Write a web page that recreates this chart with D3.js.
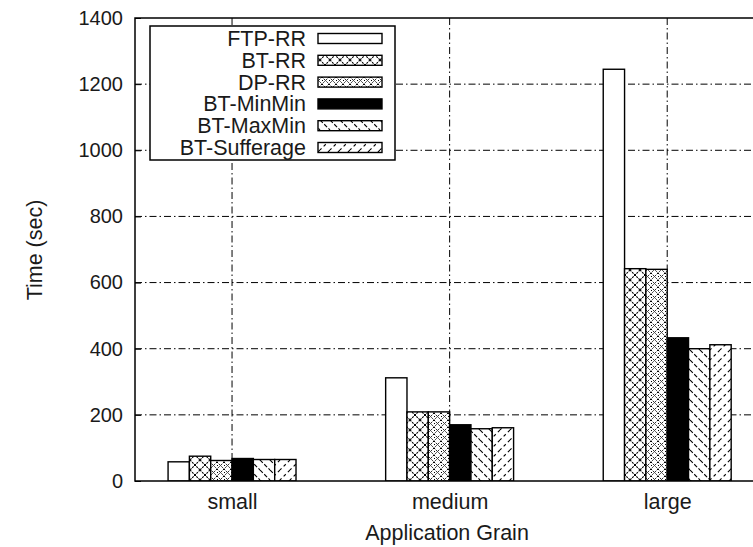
<!DOCTYPE html>
<html><head><meta charset="utf-8">
<script src="https://cdn.jsdelivr.net/npm/d3@7"></script>
<style>
body{margin:0;background:#fff;}
svg{display:block;font-family:"Liberation Sans",Arial,sans-serif;}
</style></head>
<body><svg id="c" width="753" height="547"></svg>
<script>
const categories = ["small","medium","large"];
const seriesNames = ["FTP-RR","BT-RR","DP-RR","BT-MinMin","BT-MaxMin","BT-Sufferage"];
const ftpRR      = [58, 312, 1245];
const btRR       = [75, 209, 642];
const dpRR       = [62, 209, 640];
const btMinMin   = [68, 170, 433];
const btMaxMin   = [65, 158, 400];
const btSuffer   = [65, 161, 412];
const seriesValues = [ftpRR, btRR, dpRR, btMinMin, btMaxMin, btSuffer];
const yTicks = [0,200,400,600,800,1000,1200,1400];

const FS = 21.5;
const FONT = "Liberation Sans, Arial, sans-serif";
const svg = d3.select("#c");
const pLeft=135, pTop=18, pBottom=481, pRight=776;
const x = d3.scaleLinear().domain([-0.446, 2.5]).range([pLeft, pRight]);
const y = d3.scaleLinear().domain([0,1400]).range([pBottom, pTop]);
const barW = 0.098;

// patterns
const defs = svg.append("defs");
function pat(id, w, h, draw){
  const p = defs.append("pattern").attr("id",id).attr("patternUnits","userSpaceOnUse")
    .attr("width",w).attr("height",h);
  p.append("rect").attr("width",w).attr("height",h).attr("fill","#fff");
  draw(p);
}
pat("pBT",10,10,p=>{
  p.append("path").attr("d","M0,0L10,10M10,0L0,10").attr("stroke","#000").attr("stroke-width",1.1).attr("stroke-dasharray","2,1");
  p.append("rect").attr("x",4).attr("y",4).attr("width",2).attr("height",2).attr("fill","#000");
});
pat("pDP",7,7,p=>{
  p.append("path").attr("d","M0,0L7,7M7,0L0,7").attr("stroke","#000").attr("stroke-width",1).attr("stroke-dasharray","1.5,1");
  p.append("rect").attr("x",0).attr("y",3).attr("width",1).attr("height",1).attr("fill","#000");
});
pat("pMax",10,10,p=>{
  p.append("path").attr("d","M0,0L10,10M-5,5L0,10M5,-5L15,5").attr("stroke","#000").attr("stroke-width",1.1).attr("stroke-dasharray","4,2");
});
pat("pSuf",10,10,p=>{
  p.append("path").attr("d","M10,0L0,10M0,0L-5,5M15,5L5,15").attr("stroke","#000").attr("stroke-width",1.1).attr("stroke-dasharray","3,3");
});
const fills = ["#fff","url(#pBT)","url(#pDP)","#000","url(#pMax)","url(#pSuf)"];

const clip = defs.append("clipPath").attr("id","plotclip");
clip.append("rect").attr("x",pLeft).attr("y",pTop).attr("width",pRight-pLeft).attr("height",pBottom-pTop);

const dash = "7,3,1.5,3";
// grid
svg.append("g").selectAll("line").data(yTicks.filter(t=>t>0&&t<1400)).join("line")
  .attr("x1",pLeft).attr("x2",pRight).attr("y1",d=>y(d)).attr("y2",d=>y(d))
  .attr("stroke","#000").attr("stroke-width",1).attr("stroke-dasharray",dash);
svg.append("g").selectAll("line").data(categories).join("line")
  .attr("x1",(d,i)=>x(i)).attr("x2",(d,i)=>x(i)).attr("y1",pTop).attr("y2",pBottom)
  .attr("stroke","#000").attr("stroke-width",1).attr("stroke-dasharray",dash);

// bars
const gb = svg.append("g").attr("clip-path","url(#plotclip)");
seriesValues.forEach((vals,s)=>{
  gb.append("g").selectAll("rect").data(vals).join("rect")
    .attr("x",(d,i)=>x(i+(s-3)*barW))
    .attr("width",x(barW)-x(0))
    .attr("y",d=>y(d)).attr("height",d=>y(0)-y(d))
    .attr("fill",fills[s]).attr("stroke","#000").attr("stroke-width",1.4);
});

// frame
svg.append("path").attr("d",`M${pRight+10},${pTop}H${pLeft}V${pBottom}H${pRight+10}`)
  .attr("fill","none").attr("stroke","#000").attr("stroke-width",1.5);

// y axis
const yAxis = d3.axisLeft(y).tickValues(yTicks).tickFormat(d3.format("d")).tickSize(-6).tickPadding(12);
const ga = svg.append("g").attr("transform",`translate(${pLeft},0)`).call(yAxis);
ga.select(".domain").remove();
ga.attr("font-size",20).attr("font-family",FONT);
ga.selectAll("line").attr("stroke","#000").attr("stroke-width",1);
ga.selectAll("text").attr("fill","#1a1a1a");

// x labels
const xAxis = d3.axisBottom(x).tickValues([0,1,2]).tickFormat(i=>categories[i]).tickSize(-6).tickPadding(13);
const gx = svg.append("g").attr("transform",`translate(0,${pBottom})`).call(xAxis);
gx.select(".domain").remove();
gx.attr("font-size",FS).attr("font-family",FONT);
gx.selectAll("line").attr("stroke","#000");
gx.selectAll("text").attr("fill","#1a1a1a");

svg.append("text").attr("x",447).attr("y",540).attr("text-anchor","middle")
  .attr("font-size",FS).attr("fill","#1a1a1a").text("Application Grain");
svg.append("text").attr("transform","translate(42,250) rotate(-90)").attr("text-anchor","middle")
  .attr("font-size",FS).attr("fill","#1a1a1a").text("Time (sec)");

// legend
const lg = svg.append("g");
lg.append("rect").attr("x",150).attr("y",26).attr("width",245).attr("height",134)
  .attr("fill","#fff").attr("stroke","#000").attr("stroke-width",1.5);
seriesNames.forEach((n,s)=>{
  const cy = 38.5 + s*21.8;
  lg.append("text").attr("x",306).attr("y",cy+7.5).attr("text-anchor","end")
    .attr("font-size",FS).attr("fill","#1a1a1a").text(n);
  lg.append("rect").attr("x",318).attr("y",cy-5).attr("width",64).attr("height",10)
    .attr("fill",fills[s]).attr("stroke","#000").attr("stroke-width",1.4);
});
</script></body></html>
